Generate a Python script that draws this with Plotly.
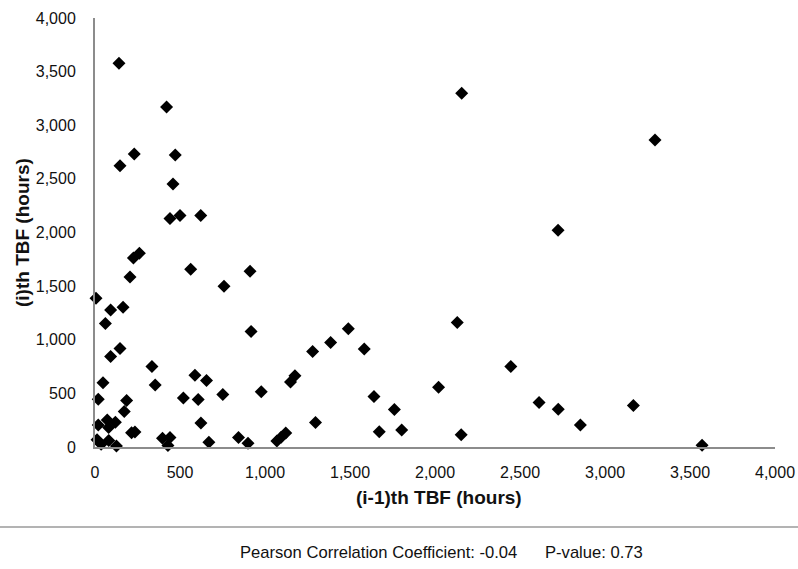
import plotly.graph_objects as go

# (i-1)th TBF (hours)
prev_tbf = [141, 421, 231, 472, 147, 459, 441, 500, 622, 226, 261, 206, 563, 912, 759,
            6, 92, 165, 61, 918, 147, 92, 335, 588, 656, 354, 47, 978, 520, 607,
            752, 19, 186, 172, 623, 215, 235, 19, 72, 120, 80, 12, 36, 81, 126,
            397, 441, 429, 670, 844, 900, 1070, 1095, 1122, 1150, 1176, 1280, 1386, 1490, 1584,
            1297, 1641, 1761, 1672, 1804, 2131, 2021, 2154, 2446, 2157, 3294, 2724, 2612, 2725, 2855,
            3167, 3571]
# (i)th TBF (hours)
curr_tbf = [3577, 3171, 2732, 2723, 2623, 2452, 2131, 2159, 2159, 1763, 1807, 1586, 1657, 1639, 1498,
            1386, 1277, 1302, 1152, 1078, 919, 844, 751, 668, 620, 579, 598, 516, 456, 443,
            490, 446, 433, 330, 224, 134, 140, 206, 252, 230, 182, 68, 26, 60, 10,
            81, 88, 15, 45, 88, 34, 55, 92, 130, 605, 665, 891, 975, 1103, 913,
            229, 470, 350, 143, 159, 1162, 556, 115, 751, 3299, 2863, 2022, 414, 351, 206,
            386, 16]

tick_vals = [0, 500, 1000, 1500, 2000, 2500, 3000, 3500, 4000]
tick_text = ["0", "500", "1,000", "1,500", "2,000", "2,500", "3,000", "3,500", "4,000"]

W, H = 798, 569
ml, mr, mt, mb = 95, 23, 18, 122
pw, ph = W - ml - mr, H - mt - mb

def px_x(px):
    return (px - ml) / pw

def px_y(py):
    return (H - mb - py) / ph

font_family = "Liberation Sans, Arial, sans-serif"

fig = go.Figure(go.Scatter(
    x=prev_tbf, y=curr_tbf, mode="markers",
    marker=dict(symbol="diamond", size=10, color="black"),
    cliponaxis=False,
))

axis_common = dict(
    range=[0, 4000], tickvals=tick_vals, ticktext=tick_text,
    showgrid=False, zeroline=False, showline=True, automargin=False,
    linecolor="#8c8c8c", linewidth=2, ticks="",
    tickfont=dict(family=font_family, size=16, color="#111111"),
)

fig.update_layout(
    width=W, height=H,
    margin=dict(l=ml, r=mr, t=mt, b=mb),
    paper_bgcolor="white", plot_bgcolor="white",
    showlegend=False,
    xaxis=dict(**axis_common, ticklabelstandoff=10),
    yaxis=dict(**axis_common, ticklabelstandoff=14),
    annotations=[
        dict(text="<b>(i-1)th TBF (hours)</b>", xref="paper", yref="paper",
             x=px_x(439), y=px_y(497), xanchor="center", yanchor="middle",
             showarrow=False, font=dict(family=font_family, size=19, color="#111111")),
        dict(text="<b>(i)th TBF (hours)</b>", xref="paper", yref="paper",
             x=px_x(22), y=px_y(233), xanchor="center", yanchor="middle", textangle=-90,
             showarrow=False, font=dict(family=font_family, size=19, color="#111111")),
        dict(text="Pearson Correlation Coefficient: -0.04&nbsp;&nbsp;&nbsp;&nbsp;&nbsp;&nbsp;P-value: 0.73",
             xref="paper", yref="paper",
             x=px_x(441), y=px_y(552), xanchor="center", yanchor="middle",
             showarrow=False, font=dict(family=font_family, size=16.6, color="#111111")),
    ],
    shapes=[
        dict(type="line", xref="paper", yref="paper",
             x0=px_x(0), x1=px_x(W), y0=px_y(527), y1=px_y(527),
             line=dict(color="#9a9a9a", width=1.5)),
    ],
)

fig.write_html("out.html",
               config={"displayModeBar": False},
               post_script="document.body.style.margin='0';document.body.style.padding='0';")
